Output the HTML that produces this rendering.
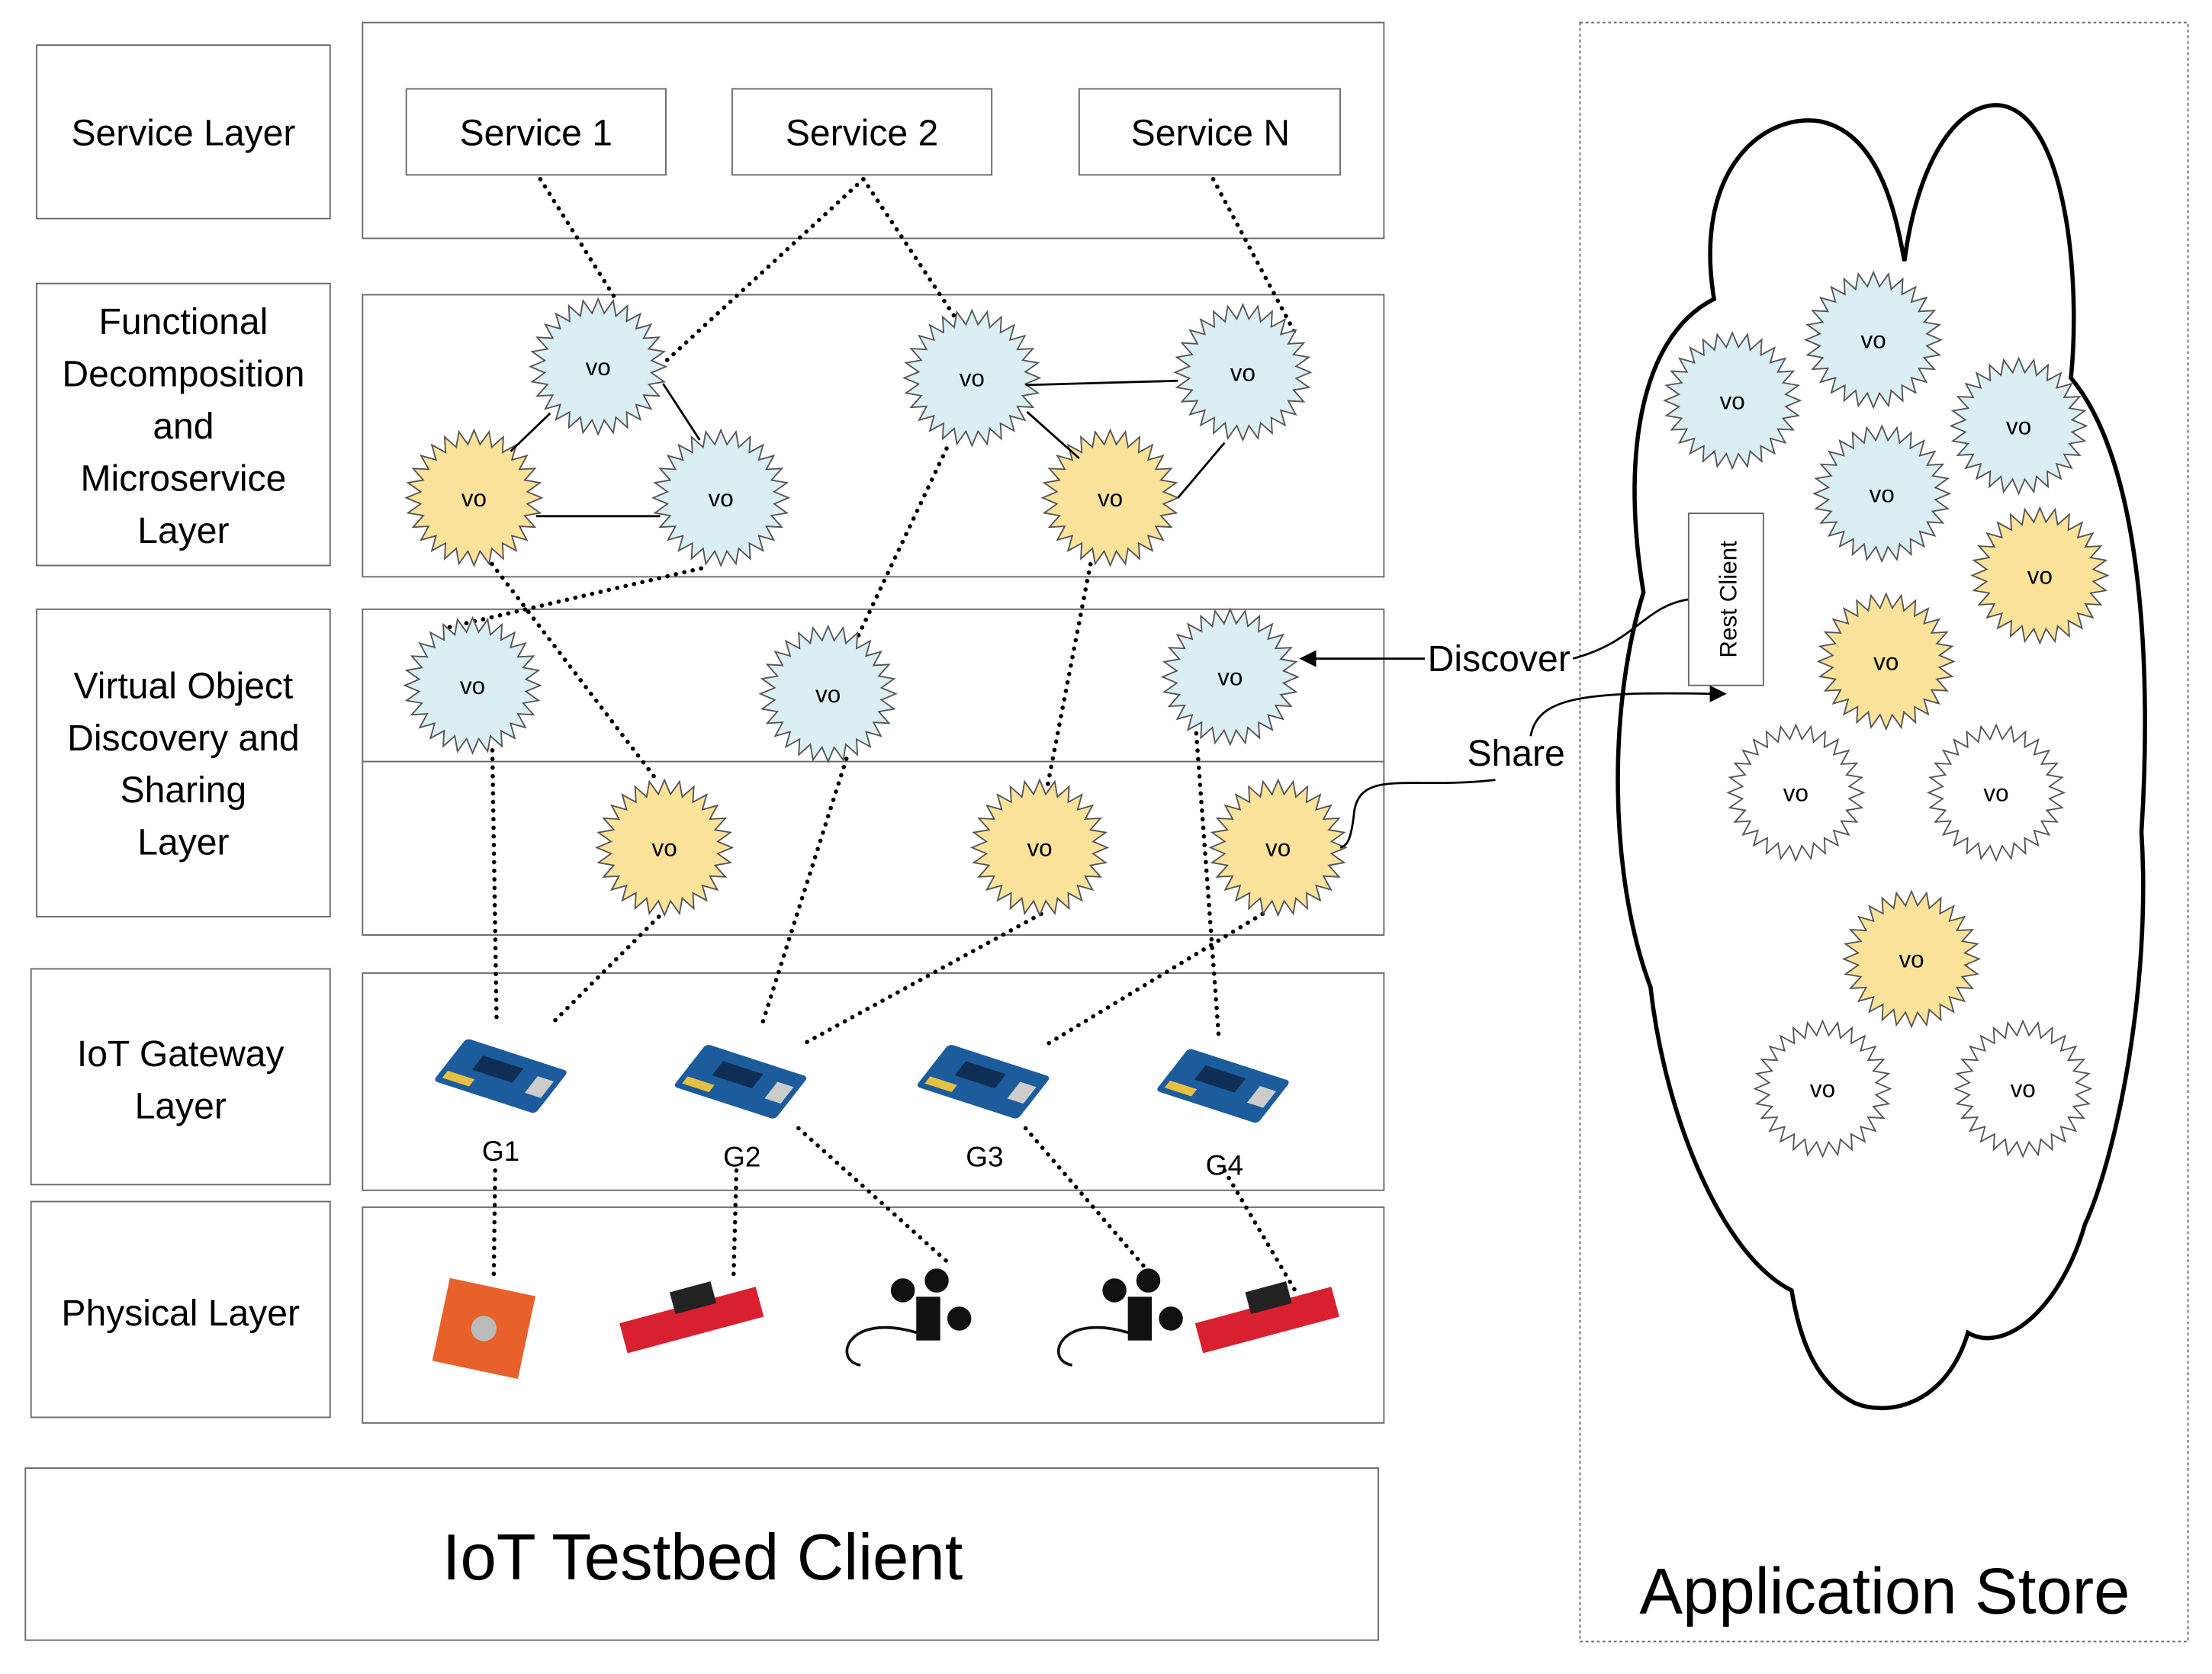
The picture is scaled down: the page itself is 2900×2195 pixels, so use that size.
<!DOCTYPE html>
<html><head><meta charset="utf-8"><style>
html,body{margin:0;padding:0;background:#fff}
svg{display:block}
text{font-family:"Liberation Sans",sans-serif;fill:#000}
</style></head><body>
<svg id="s" width="2900" height="2195" viewBox="0 0 1568 1187" preserveAspectRatio="none" xmlns="http://www.w3.org/2000/svg">
<g fill="none" stroke="#666" stroke-width="1">
<rect x="26" y="32" width="208" height="123"/>
<rect x="26" y="201" width="208" height="200"/>
<rect x="26" y="432" width="208" height="218"/>
<rect x="22" y="687" width="212" height="153"/>
<rect x="22" y="852" width="212" height="153"/>
<rect x="257" y="16" width="724" height="153"/>
<rect x="257" y="209" width="724" height="200"/>
<rect x="257" y="432" width="724" height="231"/>
<line x1="257" y1="540" x2="981" y2="540"/>
<rect x="257" y="690" width="724" height="154"/>
<rect x="257" y="856" width="724" height="153"/>
<rect x="18" y="1041" width="959" height="122"/>
<rect x="288" y="63" width="184" height="61"/>
<rect x="519" y="63" width="184" height="61"/>
<rect x="765" y="63" width="185" height="61"/>
<rect x="1120" y="16" width="431" height="1148" stroke-dasharray="2 2"/>
</g>
<g font-size="26" text-anchor="middle">
<text x="130" y="103">Service Layer</text>
<text x="130" y="237">Functional</text>
<text x="130" y="274">Decomposition</text>
<text x="130" y="311">and</text>
<text x="130" y="348">Microservice</text>
<text x="130" y="385">Layer</text>
<text x="130" y="495">Virtual Object</text>
<text x="130" y="532">Discovery and</text>
<text x="130" y="569">Sharing</text>
<text x="130" y="606">Layer</text>
<text x="128" y="756">IoT Gateway</text>
<text x="128" y="793">Layer</text>
<text x="128" y="940">Physical Layer</text>
<text x="380" y="103">Service 1</text>
<text x="611" y="103">Service 2</text>
<text x="858" y="103">Service N</text>
<text x="498" y="1120" font-size="46">IoT Testbed Client</text>
<text x="1336" y="1144" font-size="46">Application Store</text>
</g>
<path d="M1215,212 C1200,120 1250,80 1290,86 C1335,95 1345,160 1350,185 C1360,110 1390,70 1420,75 C1465,85 1475,200 1468,268 C1520,330 1525,480 1518,590 C1525,700 1500,820 1478,868 C1460,930 1420,960 1395,945 C1380,995 1340,1005 1315,995 C1285,980 1275,945 1270,915 C1220,890 1180,790 1170,700 C1140,620 1140,500 1165,420 C1150,330 1160,240 1215,212 Z" fill="none" stroke="#000" stroke-width="3"/>
<g stroke="#000" stroke-width="3" stroke-dasharray="0.1 6" stroke-linecap="round" fill="none">
<line x1="383" y1="127" x2="437" y2="213"/>
<line x1="612" y1="127" x2="470" y2="258"/>
<line x1="612" y1="127" x2="677" y2="225"/>
<line x1="860" y1="127" x2="920" y2="240"/>
<line x1="345" y1="395" x2="467" y2="555"/>
<line x1="497" y1="403" x2="313" y2="446"/>
<line x1="671" y1="318" x2="605" y2="458"/>
<line x1="773" y1="400" x2="742" y2="560"/>
<line x1="349" y1="532" x2="352" y2="722"/>
<line x1="467" y1="650" x2="393" y2="724"/>
<line x1="600" y1="538" x2="540" y2="727"/>
<line x1="738" y1="648" x2="570" y2="740"/>
<line x1="848" y1="520" x2="864" y2="736"/>
<line x1="895" y1="648" x2="743" y2="740"/>
<line x1="351" y1="830" x2="350" y2="905"/>
<line x1="522" y1="830" x2="520" y2="905"/>
<line x1="566" y1="800" x2="674" y2="897"/>
<line x1="727" y1="800" x2="811" y2="898"/>
<line x1="868" y1="830" x2="918" y2="915"/>
</g>
<g id="stars"></g>
<g stroke="#000" stroke-width="1.5">
<line x1="362" y1="320" x2="390" y2="293"/>
<line x1="470" y1="272" x2="496" y2="312"/>
<line x1="380" y1="366" x2="468" y2="366"/>
<line x1="727" y1="273" x2="835" y2="270"/>
<line x1="728" y1="292" x2="765" y2="325"/>
<line x1="835" y1="353" x2="868" y2="314"/>
</g>
<g stroke="#000" stroke-width="1.5" fill="none">
<line x1="1010" y1="467" x2="930" y2="467"/>
<path d="M1115,467 C1160,455 1165,430 1197,425"/>
<path d="M1085,522 C1090,495 1120,490 1215,492"/>
<path d="M1060,553 C1000,560 965,545 960,575 C958,595 955,600 950,601"/>
</g>
<path d="M921,467 L933,461 L933,473 Z" fill="#000"/>
<path d="M1224,492 L1212,486 L1212,498 Z" fill="#000"/>
<rect x="1197" y="364" width="53" height="122" fill="#fff" stroke="#666"/>
<text transform="translate(1231,425) rotate(-90)" font-size="17" text-anchor="middle">Rest Client</text>
<text x="1012" y="476" font-size="26">Discover</text>
<text x="1040" y="543" font-size="26">Share</text>
<g>
<g transform="translate(355,763) rotate(18) skewX(-20)"><rect x="-38" y="-18" width="76" height="36" rx="3" fill="#1d5c9c"/><rect x="-20" y="-10" width="30" height="12" fill="#0e2e55"/><rect x="22" y="-8" width="12" height="14" fill="#ccc"/><rect x="-34" y="8" width="20" height="6" fill="#e6c040"/></g>
<g transform="translate(525,767) rotate(18) skewX(-20)"><rect x="-38" y="-18" width="76" height="36" rx="3" fill="#1d5c9c"/><rect x="-20" y="-10" width="30" height="12" fill="#0e2e55"/><rect x="22" y="-8" width="12" height="14" fill="#ccc"/><rect x="-34" y="8" width="20" height="6" fill="#e6c040"/></g>
<g transform="translate(697,767) rotate(18) skewX(-20)"><rect x="-38" y="-18" width="76" height="36" rx="3" fill="#1d5c9c"/><rect x="-20" y="-10" width="30" height="12" fill="#0e2e55"/><rect x="22" y="-8" width="12" height="14" fill="#ccc"/><rect x="-34" y="8" width="20" height="6" fill="#e6c040"/></g>
<g transform="translate(867,770) rotate(18) skewX(-20)"><rect x="-38" y="-18" width="76" height="36" rx="3" fill="#1d5c9c"/><rect x="-20" y="-10" width="30" height="12" fill="#0e2e55"/><rect x="22" y="-8" width="12" height="14" fill="#ccc"/><rect x="-34" y="8" width="20" height="6" fill="#e6c040"/></g>
</g>
<g font-size="20" text-anchor="middle">
<text x="355" y="823">G1</text>
<text x="526" y="827">G2</text>
<text x="698" y="827">G3</text>
<text x="868" y="833">G4</text>
</g>
<g>
<rect x="312" y="912" width="62" height="60" fill="#e8602a" transform="rotate(12 343 942)"/>
<circle cx="343" cy="942" r="9" fill="#bbb"/>
<g transform="rotate(-15 490 935)"><rect x="440" y="925" width="100" height="22" fill="#d92030"/><rect x="480" y="913" width="30" height="16" fill="#222"/></g>
<g transform="rotate(-15 898 935)"><rect x="848" y="925" width="100" height="22" fill="#d92030"/><rect x="888" y="913" width="30" height="16" fill="#222"/></g>
<g fill="#111" stroke="#111"><circle cx="640" cy="915" r="8"/><circle cx="664" cy="908" r="8"/><circle cx="680" cy="935" r="8"/><rect x="650" y="920" width="16" height="30"/><path d="M650,945 C600,930 590,965 610,968" fill="none" stroke-width="2"/></g>
<g fill="#111" stroke="#111"><circle cx="790" cy="915" r="8"/><circle cx="814" cy="908" r="8"/><circle cx="830" cy="935" r="8"/><rect x="800" y="920" width="16" height="30"/><path d="M800,945 C750,930 740,965 760,968" fill="none" stroke-width="2"/></g>
</g>
<script>
var NS="http://www.w3.org/2000/svg";
var cols={b:"#dbeef4",y:"#fbe29a",w:"#ffffff"};
var vos=[[424,260,'b'],[336,353,'y'],[511,353,'b'],[689,268,'b'],[881,264,'b'],[787,353,'y'],
[335,486,'b'],[587,492,'b'],[872,480,'b'],[471,601,'y'],[737,601,'y'],[906,601,'y'],
[1228,284,'b'],[1328,241,'b'],[1431,302,'b'],[1334,350,'b'],[1446,408,'y'],[1337,469,'y'],
[1273,562,'w'],[1415,562,'w'],[1355,680,'y'],[1292,772,'w'],[1434,772,'w']];
var g=document.getElementById("stars");
vos.forEach(function(v){
 var p=[],n=28;
 for(var i=0;i<2*n;i++){var r=i%2?38:48,a=Math.PI*i/n;p.push((v[0]+r*Math.cos(a)).toFixed(1)+","+(v[1]+r*Math.sin(a)).toFixed(1));}
 var pg=document.createElementNS(NS,"polygon");pg.setAttribute("points",p.join(" "));
 pg.setAttribute("fill",cols[v[2]]);pg.setAttribute("stroke","#555");pg.setAttribute("stroke-width","1");g.appendChild(pg);
 var t=document.createElementNS(NS,"text");t.setAttribute("x",v[0]);t.setAttribute("y",v[1]+6);t.setAttribute("text-anchor","middle");t.setAttribute("font-size","17");t.textContent="vo";g.appendChild(t);
});
</script>
</svg>
</body></html>
